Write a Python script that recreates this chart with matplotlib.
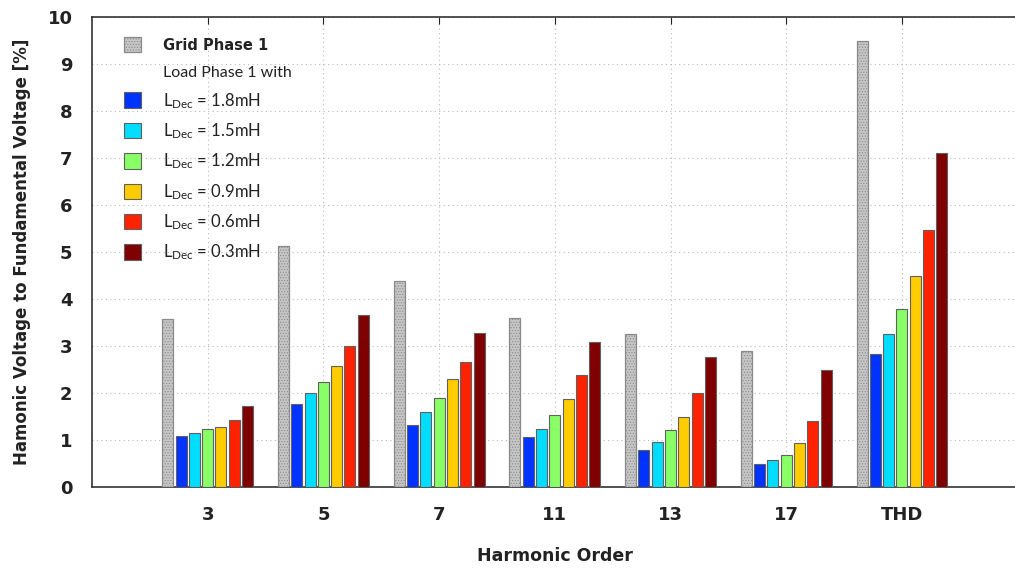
import matplotlib
matplotlib.use("Agg")
import matplotlib.pyplot as plt
import matplotlib.patches as mpatches
import numpy as np

plt.rcParams['font.family'] = ['Lato', 'DejaVu Sans']
plt.rcParams['hatch.color'] = '#b2b2b2'
plt.rcParams['hatch.linewidth'] = 0.5

# harmonic orders on the x axis
categories = ['3', '5', '7', '11', '13', '17', 'THD']

# grid phase 1 (grey bars)
grid_phase1 = [3.57, 5.12, 4.38, 3.59, 3.25, 2.89, 9.48]

# load phase 1 for each decoupling inductance
load_18 = [1.08, 1.77, 1.31, 1.06, 0.79, 0.48, 2.84]
load_15 = [1.14, 1.99, 1.59, 1.23, 0.95, 0.57, 3.25]
load_12 = [1.23, 2.24, 1.89, 1.53, 1.21, 0.69, 3.79]
load_09 = [1.28, 2.57, 2.29, 1.87, 1.50, 0.93, 4.48]
load_06 = [1.43, 3.01, 2.67, 2.38, 2.00, 1.40, 5.47]
load_03 = [1.72, 3.67, 3.27, 3.08, 2.77, 2.49, 7.11]

load_series = [load_18, load_15, load_12, load_09, load_06, load_03]
load_labels = ['1.8mH', '1.5mH', '1.2mH', '0.9mH', '0.6mH', '0.3mH']
load_colors = ['#0033ff', '#00ddff', '#88ff66', '#ffcc00', '#ff2200', '#7f0000']

BOLD = ['DejaVu Sans']


def main() -> None:
    fig = plt.figure(figsize=(10.15, 5.68), dpi=100)
    ax = fig.add_axes([0.0906, 0.1426, 0.912, 0.8275])

    x = np.arange(1, len(categories) + 1)
    pitch = 0.115
    width = 0.095

    grid_bars = ax.bar(x - 3 * pitch, grid_phase1, width, color='#c6c6c6',
                       edgecolor='#8a8a8a', linewidth=0.9, hatch='......',
                       zorder=3, label='Grid Phase 1')

    load_bars = []
    for k, (vals, col) in enumerate(zip(load_series, load_colors)):
        b = ax.bar(x + (k - 2) * pitch, vals, width, color=col,
                   edgecolor='#606060', linewidth=0.8, zorder=3)
        load_bars.append(b)

    ax.set_xlim(0, 8)
    ax.set_ylim(0, 10)
    ax.set_xticks(x)
    ax.set_xticklabels(categories)
    ax.set_yticks(np.arange(0, 11, 1))

    ax.grid(True, linestyle=(0, (1, 3)), color='#b8b8b8', linewidth=0.8, zorder=0)
    ax.spines['right'].set_visible(False)
    for s in ['left', 'bottom', 'top']:
        ax.spines[s].set_color('#333333')
        ax.spines[s].set_linewidth(1.2)
    ax.tick_params(axis='x', direction='in', top=True, bottom=False, length=5,
                   labelsize=13, pad=14, colors='#222222')
    ax.tick_params(axis='y', direction='in', length=0, labelsize=13, pad=14,
                   colors='#222222')
    for lbl in ax.get_xticklabels() + ax.get_yticklabels():
        lbl.set_fontweight('bold')
        lbl.set_family(BOLD)

    ax.set_xlabel('Harmonic Order', fontsize=12.5, fontweight='bold',
                  family=BOLD, labelpad=16, color='#222222')
    ax.set_ylabel('Hamonic Voltage to Fundamental Voltage [%]', fontsize=12,
                  fontweight='bold', family=BOLD, labelpad=12, color='#222222')

    # legend: grid entry, a text-only row, then the load entries
    blank = mpatches.Patch(color='none', label='Load Phase 1 with')
    handles = [grid_bars, blank] + load_bars
    labels = ['Grid Phase 1', 'Load Phase 1 with'] + \
        [r'$\mathregular{L_{Dec}}$ = ' + s for s in load_labels]
    leg = ax.legend(handles, labels, loc='upper left', frameon=False,
                    fontsize=12, handlelength=1.05, handleheight=1.05,
                    handletextpad=1.3, labelspacing=0.64,
                    bbox_to_anchor=(0.018, 0.99))
    texts = leg.get_texts()
    texts[0].set_fontweight('bold')
    texts[0].set_family(BOLD)
    texts[0].set_fontsize(10.5)
    texts[1].set_fontsize(11.5)
    for t in texts:
        t.set_color('#222222')

    fig.savefig('out.png', dpi=100)
    return None


if __name__ == "__main__":
    main()
